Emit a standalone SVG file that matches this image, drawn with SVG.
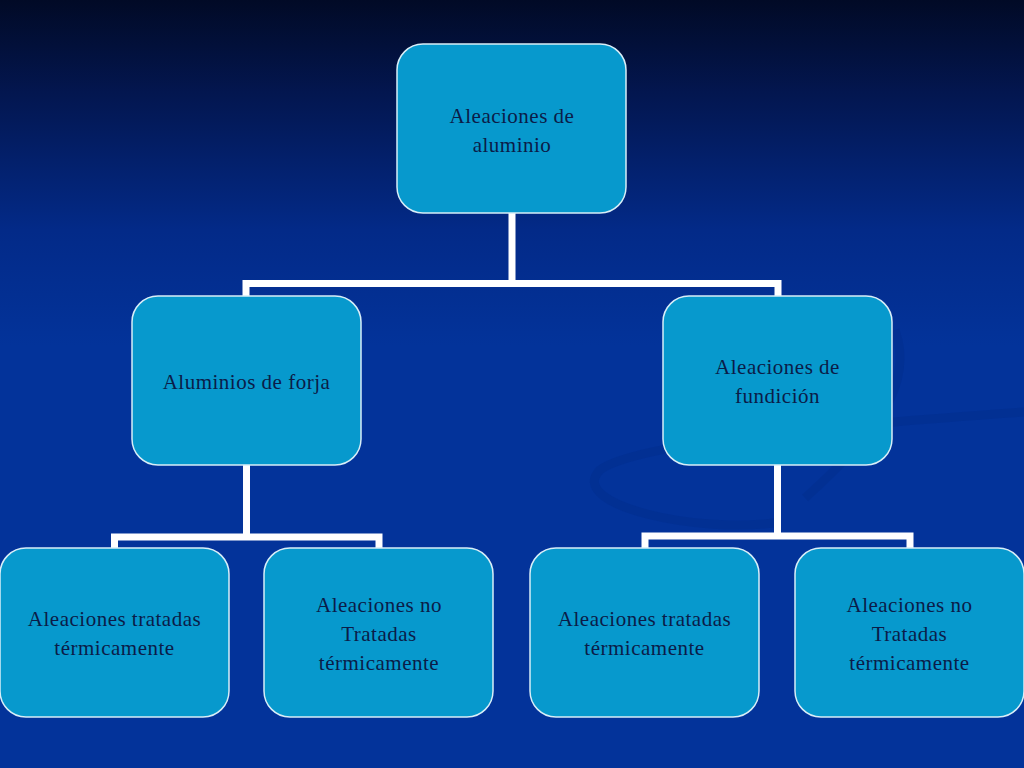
<svg xmlns="http://www.w3.org/2000/svg" width="1024" height="768" viewBox="0 0 1024 768">
<defs>
<linearGradient id="bg" x1="0" y1="0" x2="0" y2="1">
<stop offset="0" stop-color="#010a26"/>
<stop offset="0.12" stop-color="#03164f"/>
<stop offset="0.3" stop-color="#032a88"/>
<stop offset="0.45" stop-color="#03339a"/>
<stop offset="1" stop-color="#03339a"/>
</linearGradient>
<style>
.box{fill:#0799cd;stroke:#d8eef8;stroke-width:1.5}
.lbl{font-family:"Liberation Serif","DejaVu Serif",serif;font-size:21px;letter-spacing:0.5px;fill:#0b1c48;text-anchor:middle}
.conn{stroke:#ffffff;stroke-width:7;fill:none;stroke-linejoin:miter}
.swirl{fill:none;stroke:#022c8c;stroke-width:9;opacity:0.45}
</style>
</defs>
<rect x="0" y="0" width="1024" height="768" fill="url(#bg)"/>
<path class="swirl" d="M1024,412 C880,422 640,440 600,470 C565,505 700,535 780,522"/>
<path class="swirl" d="M895,330 C915,385 875,435 805,498" stroke-width="6"/>
<g id="connectors">
<path class="conn" d="M512,213 V283.5 M246,296 V283.5 H778 V296"/>
<path class="conn" d="M246.5,465 V537 M114.5,548 V537 H379 V548"/>
<path class="conn" d="M777.5,465 V536 M645,548 V536 H910 V548"/>
</g>
<g id="n-root">
<rect class="box" x="397" y="44" width="229" height="169" rx="26"/>
<text class="lbl" x="512" y="123">Aleaciones de</text>
<text class="lbl" x="512" y="152">aluminio</text>
</g>
<g id="n-forja">
<rect class="box" x="132" y="296" width="229" height="169" rx="26"/>
<text class="lbl" x="246.5" y="389">Aluminios de forja</text>
</g>
<g id="n-fundicion">
<rect class="box" x="663" y="296" width="229" height="169" rx="26"/>
<text class="lbl" x="777.5" y="374">Aleaciones de</text>
<text class="lbl" x="777.5" y="403">fundición</text>
</g>
<g id="n-forja-tratadas">
<rect class="box" x="0" y="548" width="229" height="169" rx="26"/>
<text class="lbl" x="114.5" y="626">Aleaciones tratadas</text>
<text class="lbl" x="114.5" y="655">térmicamente</text>
</g>
<g id="n-forja-no-tratadas">
<rect class="box" x="264" y="548" width="229" height="169" rx="26"/>
<text class="lbl" x="379" y="612">Aleaciones no</text>
<text class="lbl" x="379" y="641">Tratadas</text>
<text class="lbl" x="379" y="670">térmicamente</text>
</g>
<g id="n-fund-tratadas">
<rect class="box" x="530" y="548" width="229" height="169" rx="26"/>
<text class="lbl" x="644.5" y="626">Aleaciones tratadas</text>
<text class="lbl" x="644.5" y="655">térmicamente</text>
</g>
<g id="n-fund-no-tratadas">
<rect class="box" x="795" y="548" width="229" height="169" rx="26"/>
<text class="lbl" x="909.5" y="612">Aleaciones no</text>
<text class="lbl" x="909.5" y="641">Tratadas</text>
<text class="lbl" x="909.5" y="670">térmicamente</text>
</g>
</svg>
